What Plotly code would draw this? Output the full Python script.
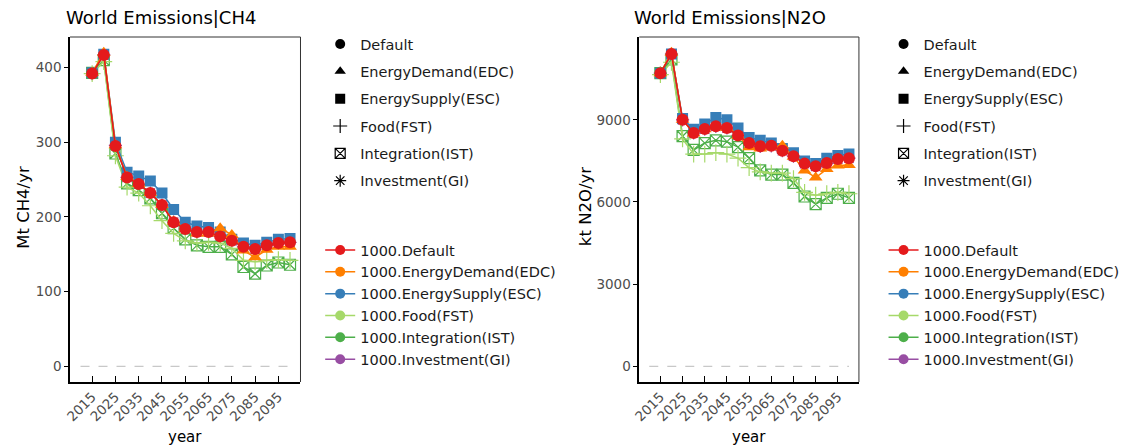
import plotly.graph_objects as go

# ---------------------------------------------------------------- data
years = [2015, 2020, 2025, 2030, 2035, 2040, 2045, 2050, 2055,
         2060, 2065, 2070, 2075, 2080, 2085, 2090, 2095, 2100]

scenarios = ["Default", "EnergyDemand(EDC)", "EnergySupply(ESC)",
             "Food(FST)", "Integration(IST)", "Investment(GI)"]

ch4_default = [392, 417, 295, 253, 244, 232, 216, 193, 184, 180, 180, 174, 168, 160, 157, 162, 165, 166]
ch4_edc     = [393, 420, 296, 254, 244, 232, 216, 194, 184, 178, 178, 185, 176, 155, 146, 156, 160, 160]
ch4_esc     = [393, 418, 300, 260, 255, 248, 232, 210, 193, 188, 186, 180, 170, 165, 162, 166, 170, 171]
ch4_fst     = [392, 408, 282, 240, 232, 215, 195, 178, 168, 165, 166, 165, 158, 142, 140, 142, 143, 142]
ch4_ist     = [393, 410, 285, 245, 236, 225, 205, 185, 170, 162, 160, 160, 150, 133, 124, 135, 139, 136]
ch4_gi      = [392, 417, 296, 253, 244, 232, 216, 193, 184, 180, 180, 174, 168, 160, 157, 162, 165, 166]

n2o_default = [10700, 11400, 9000, 8520, 8660, 8760, 8700, 8430, 8150, 8030, 8050, 7870, 7670, 7400, 7300, 7420, 7570, 7600]
n2o_edc     = [10700, 11450, 9000, 8500, 8650, 8750, 8700, 8420, 8000, 7950, 8000, 8050, 7650, 7150, 6890, 7200, 7330, 7350]
n2o_esc     = [10700, 11400, 9050, 8650, 8850, 9080, 9000, 8700, 8350, 8250, 8150, 7950, 7800, 7500, 7400, 7600, 7700, 7750]
n2o_fst     = [10650, 11100, 8300, 7750, 7750, 7800, 7750, 7600, 7250, 7100, 7050, 7050, 6850, 6350, 6250, 6300, 6350, 6300]
n2o_ist     = [10700, 11200, 8400, 7900, 8150, 8250, 8200, 8000, 7600, 7150, 7000, 7000, 6700, 6200, 5920, 6150, 6300, 6150]
n2o_gi      = [10700, 11400, 9000, 8520, 8660, 8760, 8700, 8430, 8150, 8030, 8050, 7870, 7670, 7400, 7300, 7420, 7570, 7600]

x_ticks = [2015, 2025, 2035, 2045, 2055, 2065, 2075, 2085, 2095]
ch4_ticks = [0, 100, 200, 300, 400]
n2o_ticks = [0, 3000, 6000, 9000]

# ---------------------------------------------------------------- styling
colors = {
    "Default": "#e41a1c",
    "EnergyDemand(EDC)": "#ff7f00",
    "EnergySupply(ESC)": "#377eb8",
    "Food(FST)": "#a6d96a",
    "Integration(IST)": "#4daf4a",
    "Investment(GI)": "#984ea3",
}
symbols = {
    "Default": ("circle", 12),
    "EnergyDemand(EDC)": ("triangle-up", 12),
    "EnergySupply(ESC)": ("square", 11),
    "Food(FST)": ("cross-thin-open", 12),
    "Integration(IST)": ("square-x-open", 11),
    "Investment(GI)": ("asterisk-open", 11),
}
draw_order = ["Investment(GI)", "Integration(IST)", "Food(FST)",
              "EnergySupply(ESC)", "EnergyDemand(EDC)", "Default"]

ch4_series = dict(zip(scenarios, [ch4_default, ch4_edc, ch4_esc, ch4_fst, ch4_ist, ch4_gi]))
n2o_series = dict(zip(scenarios, [n2o_default, n2o_edc, n2o_esc, n2o_fst, n2o_ist, n2o_gi]))

FONT = "DejaVu Sans, Verdana, sans-serif"
TICK_GRAY = "#4d4d4d"

fig = go.Figure()


def marker_for(name, color):
    sym, size = symbols[name]
    if sym.endswith("-open"):
        return dict(symbol=sym, size=size, color=color, line=dict(color=color, width=1.2))
    return dict(symbol=sym, size=size, color=color, line=dict(width=0))


for xa, ya, series in (("x", "y", ch4_series), ("x2", "y2", n2o_series)):
    for name in draw_order:
        c = colors[name]
        fig.add_trace(go.Scatter(
            x=years, y=series[name], xaxis=xa, yaxis=ya,
            mode="lines+markers", showlegend=False,
            line=dict(color=c, width=1.5),
            marker=marker_for(name, c),
            name="1000." + name,
        ))

# legend entries: scenario shapes (black) and scenario colours
for xa, ya, lg_shape, lg_color in (("x", "y", "legend", "legend2"),
                                   ("x2", "y2", "legend3", "legend4")):
    for i, name in enumerate(scenarios):
        sym, size = symbols[name]
        mk = dict(symbol=sym, size=10, color="black",
                  line=dict(color="black", width=1.2 if sym.endswith("-open") else 0))
        fig.add_trace(go.Scatter(
            x=[None], y=[None], xaxis=xa, yaxis=ya, mode="markers",
            marker=mk, name=name, legend=lg_shape, legendgroup=lg_shape + str(i),
        ))
    for name in scenarios:
        c = colors[name]
        fig.add_trace(go.Scatter(
            x=[None], y=[None], xaxis=xa, yaxis=ya, mode="lines+markers",
            line=dict(color=c, width=1.5),
            marker=dict(symbol="circle", size=10, color=c),
            name="1000." + name, legend=lg_color,
        ))

W, H = 1125, 448
left_dom = [64 / W, 298 / W]
right_dom = [642 / W, 865 / W]
y_dom = [1 - 382 / H, 1 - 37 / H]

xaxis_common = dict(
    range=[2005.5, 2104.5], tickvals=x_ticks, ticktext=[str(t) for t in x_ticks],
    tickangle=-45, ticks="inside", ticklen=6, tickcolor="black", tickwidth=1,
    showline=True, linecolor="black", linewidth=1.6, showgrid=False, zeroline=False,
    tickfont=dict(family=FONT, size=13.5, color=TICK_GRAY),
)
yaxis_common = dict(
    ticks="outside", ticklen=4, tickcolor="black", tickwidth=1,
    showline=True, linecolor="black", linewidth=1.6, showgrid=False, zeroline=False,
    tickfont=dict(family=FONT, size=13.5, color=TICK_GRAY),
)

legend_common = dict(
    bgcolor="rgba(0,0,0,0)", borderwidth=0,
    font=dict(family=FONT, size=14.5, color="#1a1a1a"),
    xanchor="left", yanchor="top", itemclick=False,
)

fig.update_layout(
    width=W, height=H, margin=dict(l=0, r=0, t=0, b=0),
    paper_bgcolor="white", plot_bgcolor="white",
    font=dict(family=FONT),
    xaxis=dict(domain=left_dom, anchor="y", **xaxis_common),
    yaxis=dict(domain=y_dom, anchor="x", range=[-21, 441], tickvals=ch4_ticks, **yaxis_common),
    xaxis2=dict(domain=right_dom, anchor="y2", **xaxis_common),
    yaxis2=dict(domain=y_dom, anchor="x2", range=[-572, 12022], tickvals=n2o_ticks, **yaxis_common),
    legend=dict(x=318 / W, y=1 - 28 / H, tracegroupgap=5.5, **legend_common),
    legend2=dict(x=318 / W, y=1 - 234 / H, **legend_common),
    legend3=dict(x=890 / W, y=1 - 28 / H, tracegroupgap=5.5, **legend_common),
    legend4=dict(x=890 / W, y=1 - 234 / H, **legend_common),
)

# zero reference line and top/right panel borders
for xa, ya in (("x", "y"), ("x2", "y2")):
    fig.add_shape(type="line", xref=xa, yref=ya, x0=2010, x1=2100, y0=0, y1=0,
                  line=dict(color="#c8c8c8", width=1.2, dash="dash"))
    fig.add_shape(type="line", xref=xa + " domain", yref=ya + " domain",
                  x0=0, x1=1, y0=1, y1=1, line=dict(color="#333333", width=1))
    fig.add_shape(type="line", xref=xa + " domain", yref=ya + " domain",
                  x0=1, x1=1, y0=0, y1=1, line=dict(color="#333333", width=1))

# titles and axis labels
annos = [
    dict(text="World Emissions|CH4", x=58 / W, y=1 - 18 / H, xanchor="left", yanchor="middle", size=18),
    dict(text="World Emissions|N2O", x=635 / W, y=1 - 18 / H, xanchor="left", yanchor="middle", size=18),
    dict(text="year", x=181 / W, y=1 - 437 / H, xanchor="center", yanchor="middle", size=15),
    dict(text="year", x=753 / W, y=1 - 437 / H, xanchor="center", yanchor="middle", size=15),
    dict(text="Mt CH4/yr", x=16 / W, y=1 - 207 / H, xanchor="center", yanchor="middle", size=16.5, angle=-90),
    dict(text="kt N2O/yr", x=587 / W, y=1 - 207 / H, xanchor="center", yanchor="middle", size=16.5, angle=-90),
]
for a in annos:
    fig.add_annotation(
        text=a["text"], x=a["x"], y=a["y"], xref="paper", yref="paper",
        xanchor=a["xanchor"], yanchor=a["yanchor"], showarrow=False,
        textangle=a.get("angle", 0),
        font=dict(family=FONT, size=a["size"], color="black"),
    )

fig.write_html("out.html")
